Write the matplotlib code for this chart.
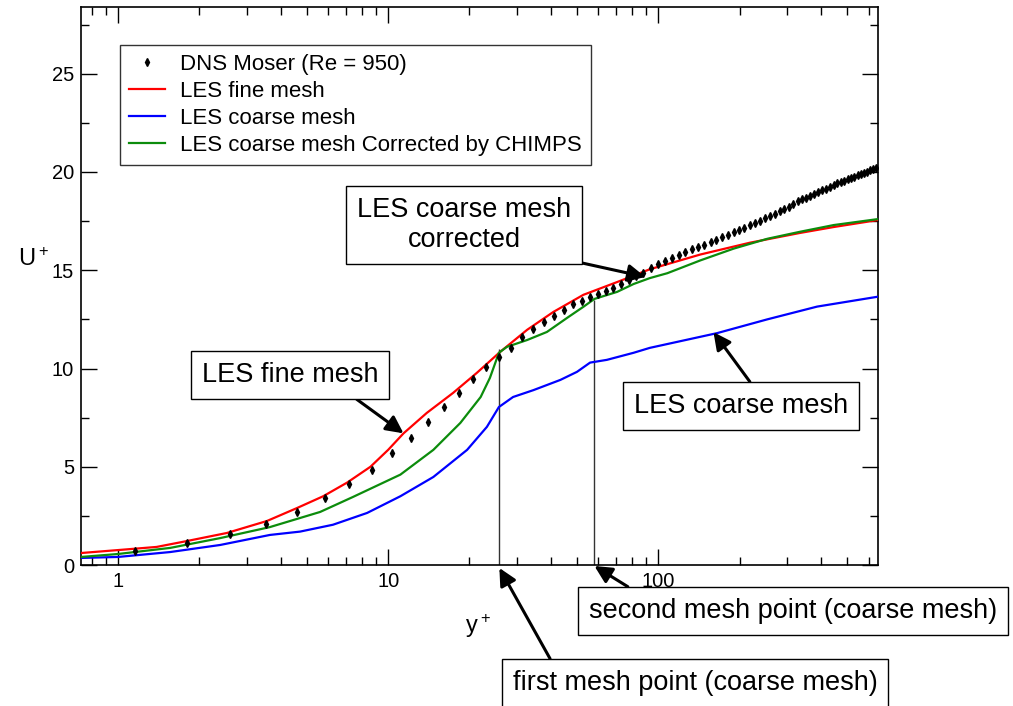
import numpy as np
import matplotlib
matplotlib.use('Agg')
import matplotlib.pyplot as plt
from matplotlib.ticker import MultipleLocator, LogLocator, NullFormatter

plt.rcParams['font.family'] = ['Liberation Sans', 'DejaVu Sans']
plt.rcParams['mathtext.fontset'] = 'custom'
plt.rcParams['mathtext.rm'] = 'Liberation Sans'

# === DNS Moser (Re = 950) ===
dns_y = [1.16, 1.8, 2.6, 3.53, 4.6, 5.85, 7.16, 8.7, 10.3, 12.1, 14.1, 16.1, 18.3,
         20.6, 23.1, 25.8, 28.6, 31.4, 34.5, 37.6, 41.2, 44.6, 48.4, 52.0, 56, 60,
         64, 68, 73, 78, 83, 88, 94, 100, 106, 112, 119, 126, 133, 140, 148, 156,
         164, 172, 181, 190, 199, 208, 218, 228, 238, 248, 259, 270, 281, 292, 304,
         316, 328, 340, 352, 365, 378, 391, 404, 417, 431, 445, 459, 473, 487, 502,
         517, 532, 547, 562, 577, 592, 608, 624, 640]
dns_u = [0.71, 1.12, 1.58, 2.09, 2.7, 3.41, 4.12, 4.86, 5.7, 6.47, 7.28, 8.04, 8.76,
         9.47, 10.08, 10.59, 11.05, 11.6, 12.0, 12.37, 12.68, 12.98, 13.29, 13.44,
         13.62, 13.8, 13.95, 14.1, 14.3, 14.5, 14.7, 14.88, 15.1, 15.3, 15.47, 15.62,
         15.78, 15.93, 16.06, 16.17, 16.3, 16.43, 16.55, 16.67, 16.8, 16.93, 17.05,
         17.17, 17.3, 17.42, 17.53, 17.64, 17.76, 17.88, 17.99, 18.1, 18.22, 18.35,
         18.5, 18.63, 18.7, 18.8, 18.9, 18.98, 19.07, 19.15, 19.25, 19.35, 19.42,
         19.49, 19.56, 19.63, 19.7, 19.77, 19.83, 19.9, 19.96, 20.02, 20.08, 20.14,
         20.2]

# === LES fine mesh ===
fine_y = [0.73, 1.0, 1.39, 1.8, 2.53, 3.56, 4.6, 5.75, 7.06, 8.6, 10, 11.4, 13.9,
          17.4, 21.3, 26, 32.7, 40.9, 52.8, 70.4, 93, 143, 218, 335, 446, 647]
fine_u = [0.61, 0.76, 0.92, 1.22, 1.63, 2.24, 2.9, 3.5, 4.2, 5.0, 5.86, 6.7, 7.74,
          8.76, 9.78, 10.85, 11.97, 12.88, 13.75, 14.4, 15.05, 15.8, 16.4, 16.9,
          17.2, 17.55]

# === LES coarse mesh ===
coarse_y = [0.73, 1.0, 1.56, 2.39, 3.65, 4.72, 6.25, 8.36, 11.1, 14.7, 19.6, 23.2,
            25.7, 29, 34.5, 43.4, 50, 55.9, 64.5, 81, 93, 165, 253, 387, 647]
coarse_u = [0.36, 0.41, 0.66, 1.02, 1.53, 1.7, 2.05, 2.65, 3.5, 4.48, 5.86, 7.03,
            8.04, 8.55, 8.9, 9.42, 9.83, 10.3, 10.44, 10.8, 11.05, 11.8, 12.5,
            13.15, 13.65]

# === LES coarse mesh corrected by CHIMPS ===
corr_y = [0.73, 1.0, 1.56, 2.39, 3.65, 5.6, 7.4, 11.1, 14.7, 18.5, 22.0, 23.8,
          25.7, 27.5, 32.7, 38.7, 46, 52.8, 58, 70.4, 81, 93, 108, 143, 190, 253,
          335, 446, 647]
corr_u = [0.41, 0.56, 0.87, 1.37, 1.93, 2.7, 3.46, 4.6, 5.86, 7.23, 8.55,
          9.52, 10.8, 11.1, 11.45, 11.86, 12.58, 13.14, 13.54, 13.9, 14.3, 14.6,
          14.85, 15.5, 16.1, 16.6, 16.96, 17.3, 17.6]

# === Mesh points of the coarse mesh ===
mesh_y = [25.8, 58]
mesh_top = [11.0, 13.5]

# === Annotations: text, arrow tip (data), text centre (fig px), relpos ===
notes = ['LES fine mesh', 'LES coarse mesh\ncorrected', 'LES coarse mesh',
         'second mesh point (coarse mesh)', 'first mesh point (coarse mesh)']
note_tip = [(11.4, 6.7), (89.5, 14.66), (160, 11.85), (58, -0.05), (25.8, -0.15)]
note_pos = [(290, 331), (464, 481), (741, 300), (793, 95), (695, 23)]
note_rel = [(0.79, 0), (0.84, 0), (0.58, 1), (0.14, 1), (0.12, 1)]

fig = plt.figure(figsize=(10.13, 7.06), dpi=100)
ax = fig.add_axes([0.080, 0.1997, 0.7867, 0.7905])

ax.vlines(mesh_y, 0, mesh_top, color='#333333', lw=1.0, zorder=1)
ax.plot(dns_y, dns_u, 'd', color='k', ms=4, label='DNS Moser (Re = 950)', zorder=4)
ax.plot(fine_y, fine_u, color='#ff0000', lw=1.6, label='LES fine mesh', zorder=3)
ax.plot(coarse_y, coarse_u, color='#0000ff', lw=1.6, label='LES coarse mesh', zorder=3)
ax.plot(corr_y, corr_u, color='#0c8c0c', lw=1.6,
        label='LES coarse mesh Corrected by CHIMPS', zorder=3)

ax.set_xscale('log')
ax.set_xlim(0.73, 650)
ax.set_ylim(0, 28.4)
ax.set_xticks([1, 10, 100])
ax.set_xticklabels(['1', '10', '100'])
ax.xaxis.set_minor_locator(LogLocator(base=10, subs=np.arange(2, 10)))
ax.xaxis.set_minor_formatter(NullFormatter())
ax.yaxis.set_major_locator(MultipleLocator(5))
ax.yaxis.set_minor_locator(MultipleLocator(2.5))

ax.tick_params(which='both', direction='in', top=True, right=True, width=1.0,
               labelsize=14.5)
ax.tick_params(which='major', length=11.5, pad=5)
ax.tick_params(which='minor', length=6)
for s in ax.spines.values():
    s.set_linewidth(1.2)

ax.set_xlabel(r'$\mathregular{y^+}$', fontsize=17)
ax.xaxis.set_label_coords(0.498, -0.085)
ax.set_ylabel(r'$\mathregular{U^+}$', fontsize=17, rotation=0)
ax.yaxis.set_label_coords(-0.060, 0.527)

leg = ax.legend(loc='upper left', bbox_to_anchor=(0.049, 0.932), borderaxespad=0,
                fontsize=16, frameon=True, fancybox=False, handlelength=1.6,
                handletextpad=0.7, labelspacing=0.27, borderpad=0.4,
                numpoints=1)
leg.get_frame().set_edgecolor('k')
leg.get_frame().set_linewidth(1.0)

for txt, tip, pos, rel in zip(notes, note_tip, note_pos, note_rel):
    ax.annotate(txt, xy=tip, xycoords='data', xytext=pos,
                textcoords='figure pixels', ha='center', va='center',
                fontsize=19.5, annotation_clip=False,
                bbox=dict(boxstyle='square,pad=0.4', fc='white', ec='k', lw=1.0),
                arrowprops=dict(arrowstyle='-|>', color='k', lw=2.2,
                                mutation_scale=26, relpos=rel,
                                shrinkA=0, shrinkB=0),
                zorder=6)

fig.savefig('out.png', dpi=100)
